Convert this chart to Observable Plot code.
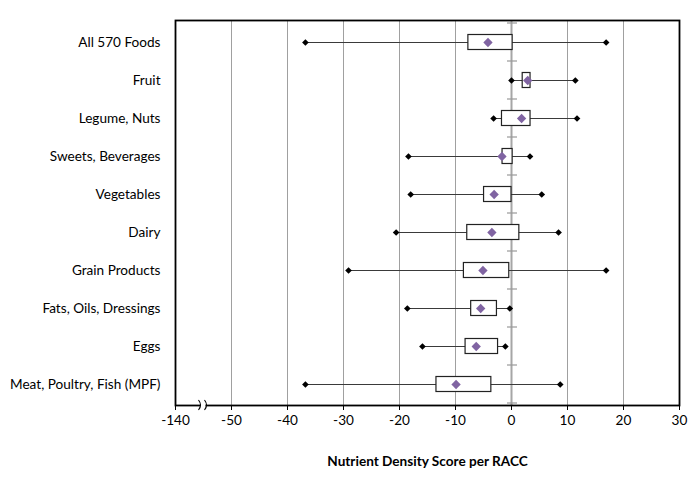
<!DOCTYPE html>
<html>
<head>
<meta charset="utf-8">
<script src="https://cdn.jsdelivr.net/npm/d3@7"></script>
<script src="https://cdn.jsdelivr.net/npm/@observablehq/plot@0.6"></script>
<style>
  html, body { margin: 0; padding: 0; background: #fff; }
  #chart svg { display: block; }
</style>
</head>
<body>
<div id="chart"></div>
<script>
const categories = ["All 570 Foods", "Fruit", "Legume, Nuts", "Sweets, Beverages", "Vegetables", "Dairy", "Grain Products", "Fats, Oils, Dressings", "Eggs", "Meat, Poultry, Fish (MPF)"];
const minValues  = [-36.8, 0.0, -3.2, -18.4, -18.0, -20.6, -29.1, -18.6, -15.9, -36.8];
const q1Values   = [-7.7, 2.0, -1.7, -1.6, -4.9, -7.9, -8.5, -7.2, -8.2, -13.4];
const q3Values   = [0.2, 3.4, 3.4, 0.2, 0.0, 1.4, -0.4, -2.6, -2.4, -3.6];
const maxValues  = [16.9, 11.4, 11.7, 3.3, 5.4, 8.4, 16.9, -0.3, -1.1, 8.7];
const meanValues = [-4.2, 2.9, 1.8, -1.7, -3.1, -3.5, -5.1, -5.5, -6.3, -9.9];
const xTicks = [-60, -50, -40, -30, -20, -10, 0, 10, 20, 30];
const xTickLabels = ["-140", "-50", "-40", "-30", "-20", "-10", "0", "10", "20", "30"];
const gridTicks = [-50, -40, -30, -20, -10, 10, 20];
const breakAt = -55;

const rows = categories.map((c, i) => ({
  cat: c, min: minValues[i], q1: q1Values[i], q3: q3Values[i], max: maxValues[i], mean: meanValues[i]
}));
const ends = rows.flatMap(d => [{cat: d.cat, v: d.min}, {cat: d.cat, v: d.max}]);

// tick marks on the vertical axis at x = 0, at category boundaries
const catTicks = (index, scales) => {
  const g = d3.create("svg:g");
  const x0 = scales.x(0);
  const bw = scales.y.bandwidth();
  const ys = categories.map(c => scales.y(c)).concat([scales.y(categories[categories.length - 1]) + bw]);
  for (const y of ys) {
    g.append("line").attr("x1", x0 - 4).attr("x2", x0 + 6).attr("y1", y).attr("y2", y)
      .attr("stroke", "#999").attr("stroke-width", 1.2);
  }
  return g.node();
};

// axis break symbol
const axisBreak = (index, scales, values, dims) => {
  const g = d3.create("svg:g");
  const x = scales.x(breakAt);
  const y = dims.height - dims.marginBottom;
  g.append("rect").attr("x", x - 2.5).attr("y", y - 3).attr("width", 5).attr("height", 6).attr("fill", "white");
  for (const dx of [-3, 3]) {
    g.append("path")
      .attr("d", `M${x + dx - 1.5},${y - 5} Q${x + dx + 2.5},${y} ${x + dx - 1.5},${y + 5}`)
      .attr("fill", "none").attr("stroke", "#000").attr("stroke-width", 1.1);
  }
  return g.node();
};

const chart = Plot.plot({
  width: 693,
  height: 483,
  marginLeft: 175,
  marginRight: 14,
  marginTop: 20,
  marginBottom: 78,
  style: { fontFamily: "Lato, 'Open Sans', sans-serif", fontSize: "13.6px", color: "#000", background: "#fff" },
  x: { domain: [-60, 30] },
  y: { domain: categories, padding: 0 },
  marks: [
    Plot.ruleX(gridTicks, { stroke: "#a0a0a0", strokeWidth: 1 }),
    Plot.ruleX([0], { stroke: "#a6a6a6", strokeWidth: 2 }),
    catTicks,
    Plot.ruleY(rows, { y: "cat", x1: "min", x2: "max", stroke: "#3a3a3a", strokeWidth: 1.2 }),
    Plot.rect(rows, { y: "cat", x1: "q1", x2: "q3", fill: "white", stroke: "#222", strokeWidth: 1.2, insetTop: 11.5, insetBottom: 11.5 }),
    Plot.dot(ends, { x: "v", y: "cat", symbol: "diamond2", fill: "#000", stroke: "none", r: 3 }),
    Plot.dot(rows, { x: "mean", y: "cat", symbol: "diamond2", fill: "#8064A2", stroke: "none", r: 4.2 }),
    Plot.frame({ stroke: "#000", strokeWidth: 1.8 }),
    Plot.axisY({ tickSize: 0, tickPadding: 15, label: null, fontSize: 13.6 }),
    Plot.axisX({
      ticks: xTicks,
      tickFormat: (d, i) => xTickLabels[xTicks.indexOf(d)],
      tickSize: 5,
      tickPadding: 5,
      fontSize: 13.6,
      label: "Nutrient Density Score per RACC",
      labelAnchor: "center",
      labelArrow: "none",
      labelOffset: 60
    }),
    axisBreak
  ]
});
d3.select(chart).selectAll('[aria-label="x-axis label"] text').style("font-weight", "bold");
document.getElementById("chart").append(chart);
</script>
</body>
</html>
